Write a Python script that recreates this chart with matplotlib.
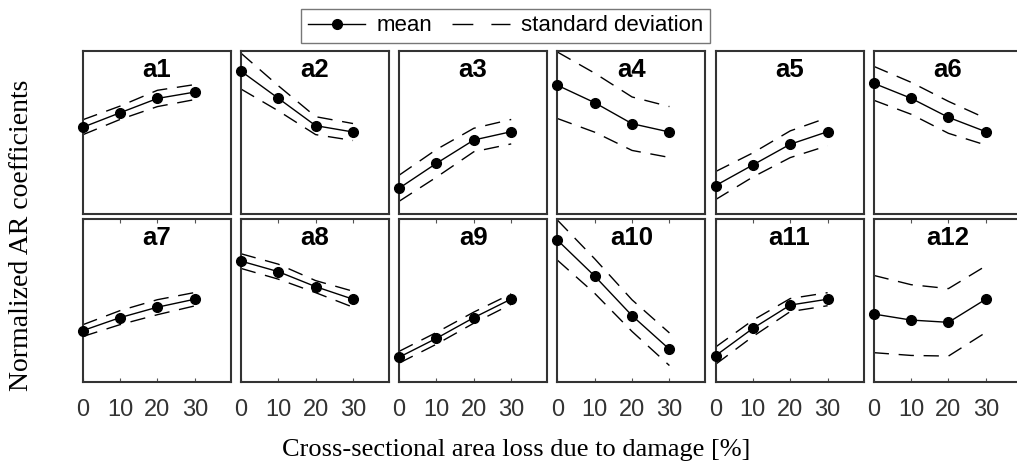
import matplotlib
matplotlib.use("Agg")
import matplotlib.pyplot as plt
from matplotlib.lines import Line2D
import numpy as np

# data (normalized)
damage = [0, 10, 20, 30]
labels = ["a1", "a2", "a3", "a4", "a5", "a6",
          "a7", "a8", "a9", "a10", "a11", "a12"]
mean_vals = [
    [0.532, 0.621, 0.709, 0.748],
    [0.877, 0.710, 0.542, 0.503],
    [0.158, 0.311, 0.454, 0.505],
    [0.790, 0.683, 0.554, 0.503],
    [0.174, 0.301, 0.428, 0.505],
    [0.802, 0.710, 0.593, 0.505],
    [0.315, 0.395, 0.459, 0.508],
    [0.742, 0.677, 0.585, 0.508],
    [0.152, 0.268, 0.395, 0.509],
    [0.871, 0.650, 0.407, 0.201],
    [0.161, 0.329, 0.472, 0.508],
    [0.417, 0.380, 0.366, 0.508],
]
sd_vals = [
    [0.046, 0.041, 0.050, 0.046],
    [0.110, 0.077, 0.055, 0.052],
    [0.080, 0.085, 0.072, 0.075],
    [0.204, 0.181, 0.164, 0.156],
    [0.086, 0.074, 0.082, 0.086],
    [0.104, 0.098, 0.098, 0.082],
    [0.036, 0.043, 0.046, 0.041],
    [0.045, 0.046, 0.037, 0.049],
    [0.036, 0.036, 0.034, 0.032],
    [0.123, 0.106, 0.097, 0.100],
    [0.053, 0.050, 0.040, 0.040],
    [0.237, 0.217, 0.207, 0.204],
]

plt.rcParams["font.family"] = ["Liberation Sans", "DejaVu Sans"]

W, H = 1017, 461
fig = plt.figure(figsize=(W / 100, H / 100), dpi=100)

frame_col = "#333333"
dash = (11, 7)

for i, lab in enumerate(labels):
    row, col = divmod(i, 6)
    left = (82.7 + col * 158.2) / W
    bottom = 1 - (214 if row == 0 else 382) / H
    ax = fig.add_axes([left, bottom, 148 / W, 163 / H])

    m = np.array(mean_vals[i])
    s = np.array(sd_vals[i])
    ax.plot(damage, m, color="black", lw=1.0, marker="o", ms=7, clip_on=False, zorder=3)
    ax.plot(damage, m + s, color="black", lw=1.0, dashes=dash)
    ax.plot(damage, m - s, color="black", lw=1.0, dashes=dash)

    ax.set_xlim(0, 39.6)
    ax.set_ylim(0, 1)
    ax.set_yticks([])
    ax.text(0.5, 0.885, lab, transform=ax.transAxes, ha="center", va="center",
            fontsize=18.5, fontweight="bold")
    for sp in ax.spines.values():
        sp.set_color(frame_col)
        sp.set_linewidth(1.5)

    ax.set_xticks(damage)
    if row == 0:
        ax.tick_params(axis="x", length=0, labelbottom=False)
    else:
        ax.tick_params(axis="x", direction="in", top=True, length=3, width=0.8,
                       color="#555555", labelsize=17, labelcolor="#333333", pad=12)

fig.text(516 / W, 1 - 450 / H, "Cross-sectional area loss due to damage [%]",
         ha="center", va="center", fontsize=19, family="Liberation Serif")
fig.text(22 / W, 1 - 235 / H, "Normalized AR coefficients", rotation=90,
         ha="center", va="center", fontsize=20, family="Liberation Serif")

handles = [
    Line2D([], [], color="black", lw=1.0, marker="o", ms=7),
    Line2D([], [], color="black", lw=1.0, dashes=(15, 13)),
]
leg = fig.legend(handles, ["mean", "standard deviation"], ncol=2,
                 loc="center", bbox_to_anchor=(505.5 / W, 1 - 25.8 / H),
                 fontsize=16, frameon=True, fancybox=False, handlelength=2.6,
                 handletextpad=0.5, columnspacing=0.9, borderpad=0.3,
                 borderaxespad=0)
leg.get_frame().set_edgecolor("#555555")
leg.get_frame().set_linewidth(1.0)

fig.savefig("out.png", dpi=100)
